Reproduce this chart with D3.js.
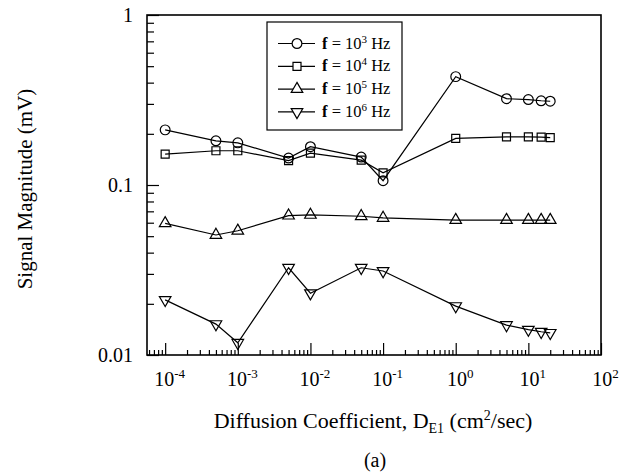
<!DOCTYPE html>
<html>
<head>
<meta charset="utf-8">
<script src="https://cdn.jsdelivr.net/npm/d3@7"></script>
<style>
  body { margin:0; background:#fff; }
  text { font-family:"Liberation Serif","Times New Roman",serif; fill:#000; }
</style>
</head>
<body>
<div id="chart"></div>
<script>
// data
var diffusion = [1e-4, 5e-4, 1e-3, 5e-3, 1e-2, 5e-2, 1e-1, 1, 5, 10, 15, 20];
var sig1e3 = [0.211, 0.182, 0.177, 0.144, 0.168, 0.146, 0.106, 0.434, 0.322, 0.318, 0.313, 0.311];
var sig1e4 = [0.152, 0.159, 0.159, 0.139, 0.154, 0.140, 0.118, 0.188, 0.192, 0.192, 0.191, 0.190];
var sig1e5 = [0.0595, 0.0508, 0.0538, 0.0660, 0.0667, 0.0655, 0.0640, 0.0622, 0.0622, 0.0622, 0.0622, 0.0622];
var sig1e6 = [0.0211, 0.0152, 0.0118, 0.0326, 0.0231, 0.0326, 0.0312, 0.0194, 0.0150, 0.0141, 0.0137, 0.0135];
var seriesExp = ["3", "4", "5", "6"];
var xMajor = [1e-4, 1e-3, 1e-2, 1e-1, 1, 10, 100];
var xMajorExp = ["-4", "-3", "-2", "-1", "0", "1", "2"];
var yMajor = [1, 0.1, 0.01];
var yMajorLabels = ["1", "0.1", "0.01"];

var svgWidth = 624, svgHeight = 472;
var margin = {top:15, left:147, right:23, bottom:117};
var width = svgWidth - margin.left - margin.right;
var height = svgHeight - margin.top - margin.bottom;

var svg = d3.select("#chart").append("svg").attr("width", svgWidth).attr("height", svgHeight);
var chartGroup = svg.append("g").attr("transform", `translate(${margin.left},${margin.top})`);

var xScale = d3.scaleLog().domain([Math.pow(10, -4.25), 100]).range([0, width]);
var yScale = d3.scaleLog().domain([0.01, 1]).range([height, 0]);

// minor ticks
var xMinor = xScale.ticks().filter(v => xMajor.indexOf(v) < 0);
var yMinor = yScale.ticks().filter(v => yMajor.indexOf(v) < 0);

chartGroup.append("g").attr("transform", `translate(0,${height})`)
  .call(d3.axisBottom(xScale).tickValues(xMinor).tickSize(-5).tickFormat(""));
chartGroup.append("g")
  .call(d3.axisLeft(yScale).tickValues(yMinor).tickSize(-7).tickFormat(""));

var xAxis = chartGroup.append("g").attr("transform", `translate(0,${height})`)
  .call(d3.axisBottom(xScale).tickValues(xMajor).tickSize(-12).tickPadding(20).tickFormat(""));
xAxis.selectAll(".tick text").each(function(d, i) {
  var t = d3.select(this).attr("font-size", "20px").attr("dy", "0.55em").attr("dx", "4px");
  t.append("tspan").text("10");
  t.append("tspan").attr("font-size", "13px").attr("dy", "-8").text(xMajorExp[i]);
});

var yAxis = chartGroup.append("g")
  .call(d3.axisLeft(yScale).tickValues(yMajor).tickSize(-12).tickPadding(14).tickFormat((d, i) => yMajorLabels[i]));
yAxis.selectAll(".tick text").attr("font-size", "20px").attr("font-family", "Liberation Serif");

svg.selectAll(".domain").attr("stroke", "none");
svg.selectAll(".tick line").attr("stroke", "#000").attr("stroke-width", 1.2);

// frame
chartGroup.append("rect").attr("width", width).attr("height", height)
  .attr("fill", "none").attr("stroke", "#000").attr("stroke-width", 1.6);

var allSeries = [sig1e3, sig1e4, sig1e5, sig1e6];
var symbols = [
  d3.symbol().type(d3.symbolCircle).size(75),
  d3.symbol().type(d3.symbolSquare).size(64),
  d3.symbol().type(d3.symbolTriangle).size(58),
  d3.symbol().type(d3.symbolTriangle).size(58)
];
var rotations = [0, 0, 0, 180];

var line = d3.line().x(d => xScale(d[0])).y(d => yScale(d[1]));

allSeries.forEach(function(vals, s) {
  var pts = diffusion.map((x, i) => [x, vals[i]]);
  chartGroup.append("path").attr("d", line(pts)).attr("fill", "none")
    .attr("stroke", "#000").attr("stroke-width", 1.2);
  chartGroup.selectAll(".m" + s).data(pts).enter().append("path")
    .attr("class", "m" + s)
    .attr("d", symbols[s])
    .attr("transform", d => `translate(${xScale(d[0])},${yScale(d[1])}) rotate(${rotations[s]})`)
    .attr("fill", "none").attr("stroke", "#000").attr("stroke-width", 1.2);
});

// legend
var legend = svg.append("g").attr("transform", "translate(267,22)");
legend.append("rect").attr("width", 135).attr("height", 108)
  .attr("fill", "#fff").attr("stroke", "#000").attr("stroke-width", 1.2);
seriesExp.forEach(function(e, s) {
  var yy = 21.5 + s * 22.8;
  legend.append("line").attr("x1", 11).attr("x2", 48).attr("y1", yy).attr("y2", yy)
    .attr("stroke", "#000").attr("stroke-width", 1.2);
  legend.append("path").attr("d", symbols[s])
    .attr("transform", `translate(30,${yy}) rotate(${rotations[s]})`)
    .attr("fill", "#fff").attr("stroke", "#000").attr("stroke-width", 1.2);
  var t = legend.append("text").attr("x", 55).attr("y", yy + 5).attr("font-size", "16.5px");
  t.append("tspan").attr("font-weight", "bold").text("f");
  t.append("tspan").text(" = 10");
  t.append("tspan").attr("font-size", "11px").attr("dy", "-6").text(e);
  t.append("tspan").attr("dy", "6").text(" Hz");
});

// titles
svg.append("text").attr("transform", "translate(32,189) rotate(-90)")
  .attr("text-anchor", "middle").attr("font-size", "21px").text("Signal Magnitude (mV)");

var xt = svg.append("text").attr("x", 373).attr("y", 428).attr("text-anchor", "middle").attr("font-size", "22px");
xt.append("tspan").text("Diffusion Coefficient, D");
xt.append("tspan").attr("font-size", "14px").attr("dy", "5").text("E1");
xt.append("tspan").attr("dy", "-5").text(" (cm");
xt.append("tspan").attr("font-size", "14px").attr("dy", "-8").text("2");
xt.append("tspan").attr("dy", "8").text("/sec)");

svg.append("text").attr("x", 375).attr("y", 467).attr("text-anchor", "middle")
  .attr("font-size", "20px").text("(a)");
</script>
</body>
</html>
